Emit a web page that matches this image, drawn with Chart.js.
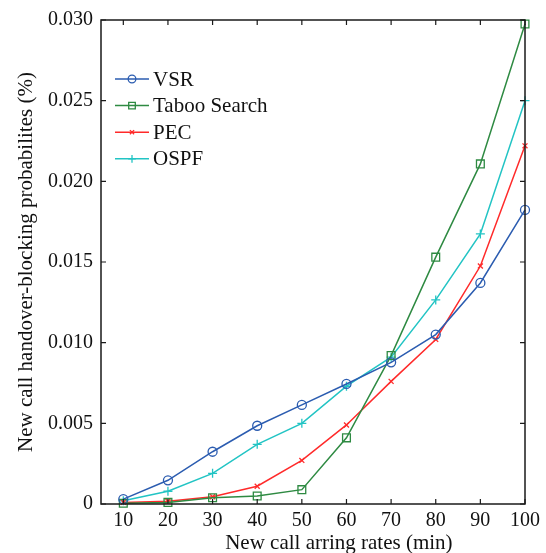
<!DOCTYPE html>
<html>
<head>
<meta charset="utf-8">
<script src="https://cdn.jsdelivr.net/npm/chart.js@4/dist/chart.umd.min.js"></script>
<style>
html,body{margin:0;padding:0;background:#fff;}
#wrap{width:546px;height:553px;}
</style>
</head>
<body>
<div id="wrap"><canvas id="c" width="546" height="553"></canvas></div>
<script>
const categories = [10, 20, 30, 40, 50, 60, 70, 80, 90, 100];
const vsr    = [0.0003, 0.00147, 0.00324, 0.00485, 0.00614, 0.00744, 0.00878, 0.0105, 0.0137, 0.01823];
const taboo  = [0.00005, 0.0001, 0.00039, 0.0005, 0.00089, 0.0041, 0.0092, 0.0153, 0.02108, 0.02975];
const pec    = [0.0001, 0.00017, 0.00045, 0.0011, 0.0027, 0.0049, 0.0076, 0.0102, 0.01475, 0.0222];
const ospf   = [0.0002, 0.00079, 0.0019, 0.0037, 0.0050, 0.0073, 0.0091, 0.01265, 0.01674, 0.0250];
const seriesNames = ['VSR', 'Taboo Search', 'PEC', 'OSPF'];
const xTicks = [10, 20, 30, 40, 50, 60, 70, 80, 90, 100];
const yTicks = [0, 0.005, 0.010, 0.015, 0.020, 0.025, 0.030];
const xTitle = 'New call arring rates (min)';
const yTitle = 'New call handover-blocking probabilites (%)';

const FONT = 'Liberation Serif, Times New Roman, serif';
const colors = ['#2b5cb0', '#2e8a42', '#ff2a2a', '#22c4c4'];
const styles = ['circle', 'rect', 'crossRot', 'cross'];
const radii = [4.5, 5.5, 3.5, 4.5];
const allData = [vsr, taboo, pec, ospf];

const datasets = allData.map((arr, i) => ({
  label: seriesNames[i],
  data: categories.map((x, j) => ({x: x, y: arr[j]})),
  borderColor: colors[i],
  backgroundColor: 'rgba(0,0,0,0)',
  pointBorderColor: colors[i],
  pointBackgroundColor: 'rgba(0,0,0,0)',
  pointStyle: styles[i],
  pointRadius: radii[i],
  pointBorderWidth: 1.3,
  borderWidth: 1.5,
  tension: 0,
  clip: 8
}));

const framePlugin = {
  id: 'frame',
  afterDatasetsDraw(chart) {
    const {ctx, chartArea: a, scales: {x, y}} = chart;
    ctx.save();
    ctx.strokeStyle = '#1a1a1a';
    ctx.lineWidth = 1.5;
    ctx.strokeRect(a.left, a.top, a.right - a.left, a.bottom - a.top);
    ctx.lineWidth = 1.2;
    const tl = 5;
    ctx.beginPath();
    xTicks.forEach(v => {
      const px = x.getPixelForValue(v);
      ctx.moveTo(px, a.bottom); ctx.lineTo(px, a.bottom - tl);
      ctx.moveTo(px, a.top); ctx.lineTo(px, a.top + tl);
    });
    yTicks.forEach(v => {
      const py = y.getPixelForValue(v);
      ctx.moveTo(a.left, py); ctx.lineTo(a.left + tl, py);
      ctx.moveTo(a.right, py); ctx.lineTo(a.right - tl, py);
    });
    ctx.stroke();

    // x-axis title (offset to the right as in the reference)
    ctx.font = '21px ' + FONT;
    ctx.fillStyle = '#111';
    ctx.textAlign = 'center';
    ctx.textBaseline = 'alphabetic';
    ctx.fillText(xTitle, x.getPixelForValue(58.3), 549);

    // legend
    const lx0 = a.left + 14, lx1 = a.left + 48, tx = a.left + 52;
    const ly0 = a.top + 59, dy = 26.6;
    ctx.font = '21px ' + FONT;
    ctx.textBaseline = 'middle';
    ctx.textAlign = 'left';
    chart.data.datasets.forEach((ds, i) => {
      const yy = ly0 + i * dy;
      ctx.strokeStyle = ds.borderColor;
      ctx.lineWidth = 1.5;
      ctx.beginPath(); ctx.moveTo(lx0, yy); ctx.lineTo(lx1, yy); ctx.stroke();
      ctx.lineWidth = 1.3;
      ctx.fillStyle = 'rgba(0,0,0,0)';
      Chart.helpers.drawPoint(ctx, {pointStyle: ds.pointStyle, radius: ds.pointRadius * 0.85, rotation: 0, borderWidth: 1.3}, (lx0 + lx1) / 2, yy);
      ctx.fillStyle = '#111';
      ctx.fillText(ds.label, tx, yy + 1);
    });
    ctx.restore();
  }
};

new Chart(document.getElementById('c'), {
  type: 'line',
  data: {datasets},
  plugins: [framePlugin],
  options: {
    responsive: false,
    animation: false,
    devicePixelRatio: 1,
    layout: {padding: {top: 20, right: 21, left: 0, bottom: 0}},
    plugins: {legend: {display: false}, tooltip: {enabled: false}},
    scales: {
      x: {
        type: 'linear', min: 5, max: 100,
        afterBuildTicks: s => { s.ticks = xTicks.map(v => ({value: v})); },
        afterFit: s => { s.height = 49; },
        grid: {display: false, drawTicks: false},
        border: {display: false},
        ticks: {padding: 5, color: '#111', font: {family: FONT, size: 20}, maxRotation: 0, autoSkip: false,
          callback: v => String(v)},
        title: {display: false}
      },
      y: {
        type: 'linear', min: 0, max: 0.03,
        afterBuildTicks: s => { s.ticks = yTicks.map(v => ({value: v})); },
        afterFit: s => { s.width = 101; },
        grid: {display: false, drawTicks: false},
        border: {display: false},
        ticks: {padding: 8, color: '#111', font: {family: FONT, size: 20}, autoSkip: false,
          callback: v => v === 0 ? '0' : v.toFixed(3)},
        title: {display: true, text: yTitle, color: '#111',
          font: {family: FONT, size: 21, lineHeight: 1}, padding: {top: 15.5, bottom: 0}}
      }
    }
  }
});
</script>
</body>
</html>
